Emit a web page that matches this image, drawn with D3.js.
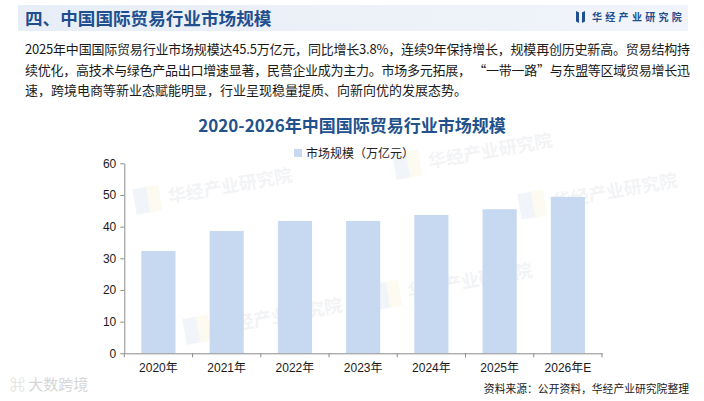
<!DOCTYPE html>
<html><head><meta charset="utf-8">
<script src="https://cdn.jsdelivr.net/npm/d3@7"></script>
<style>body{margin:0;background:#fff}svg{display:block}</style>
</head><body>
<svg id="c" width="704" height="401"></svg>
<script>
const categories = ["2020年","2021年","2022年","2023年","2024年","2025年","2026年E"];
const marketSize = [32.3, 38.6, 41.8, 41.8, 43.7, 45.5, 49.4];
const yTicks = [0, 10, 20, 30, 40, 50, 60];
const seriesName = "市场规模（万亿元）";
const chartTitle = "2020-2026年中国国际贸易行业市场规模";
const headerTitle = "四、中国国际贸易行业市场规模";
const brand = "华经产业研究院";
const bodyLines = [
  "2025年中国国际贸易行业市场规模达45.5万亿元，同比增长3.8%，连续9年保持增长，规模再创历史新高。贸易结构持",
  "续优化，高技术与绿色产品出口增速显著，民营企业成为主力。市场多元拓展， “一带一路”与东盟等区域贸易增长迅",
  "速，跨境电商等新业态赋能明显，行业呈现稳量提质、向新向优的发展态势。"
];
const sourceText = "资料来源：公开资料，华经产业研究院整理";
const watermarkText = "大数跨境";

const CJK = "'Noto Sans CJK SC','Noto Sans',sans-serif";
const NUM = "'Liberation Sans','Noto Sans CJK SC',sans-serif";
const svg = d3.select("#c");

// header band
const defs = svg.append("defs");
const g1 = defs.append("linearGradient").attr("id","hb");
g1.append("stop").attr("offset","0").attr("stop-color","#e8eef7");
g1.append("stop").attr("offset","1").attr("stop-color","#f1f4fa");
svg.append("rect").attr("x",18).attr("y",5).attr("width",670).attr("height",26).attr("fill","url(#hb)");
svg.append("text").attr("x",25).attr("y",24.5).text(headerTitle)
  .attr("font-family",CJK).attr("font-size",17.6).attr("font-weight","bold").attr("fill","#1f4f8f");

// brand logo
svg.append("path").attr("d","M576,11 L579,12.5 L579,23 L576,21.5 Z").attr("fill","#1f4f8f");
svg.append("path").attr("d","M582,12.5 L585,11 L585,21.5 L582,23 Z").attr("fill","#1f4f8f");
svg.append("text").attr("x",592).attr("y",21).text(brand)
  .attr("font-family",CJK).attr("font-size",10).attr("font-weight","bold")
  .attr("letter-spacing",3.3).attr("fill","#1f4f8f");

// watermarks (faint)
const wms = [[135,205],[395,170],[185,335],[375,300],[520,210]];
wms.forEach(([x,y])=>{
  const g = svg.append("g").attr("transform",`translate(${x},${y}) rotate(-10)`).attr("opacity",0.1);
  g.append("rect").attr("x",0).attr("y",-16).attr("width",14).attr("height",26).attr("fill","#7fa7d9");
  g.append("rect").attr("x",14).attr("y",-16).attr("width",12).attr("height",26).attr("fill","#f3d26b");
  g.append("text").attr("x",34).attr("y",4).text(brand).attr("font-family",CJK)
    .attr("font-size",18).attr("font-weight","bold").attr("fill","#8a96a8");
});
svg.append("text").attr("x",10).attr("y",390).text("⌘ "+watermarkText).attr("font-family",CJK)
  .attr("font-size",15).attr("fill","#d6d6d6");

// body text
bodyLines.forEach((t,i)=>{
  const tx = svg.append("text").attr("x",25).attr("y",54 + i*20.5).text(t)
    .attr("font-family",CJK).attr("font-size",13).attr("fill","#1a1a1a");
  if (i < 2) tx.attr("textLength",665).attr("lengthAdjust","spacing");
});

// chart title
svg.append("text").attr("x",352).attr("y",132).attr("text-anchor","middle").text(chartTitle)
  .attr("font-family",CJK).attr("font-size",17).attr("font-weight","bold").attr("fill","#22518c");

// legend
svg.append("rect").attr("x",294).attr("y",149).attr("width",8).attr("height",8).attr("fill","#c6d9f1");
svg.append("text").attr("x",306).attr("y",157.5).text(seriesName)
  .attr("font-family",CJK).attr("font-size",12).attr("fill","#222");

// scales
const x = d3.scaleBand().domain(categories).range([124.3, 602]).paddingInner(0.5).paddingOuter(0.25);
const y = d3.scaleLinear().domain([0, 60]).range([353.3, 163.3]);

// bars
svg.append("g").selectAll("rect").data(marketSize).join("rect")
  .attr("x",(d,i)=>x(categories[i])).attr("width",x.bandwidth())
  .attr("y",d=>y(d)).attr("height",d=>y(0)-y(d)).attr("fill","#c6d9f1");

// y axis
const ya = svg.append("g").attr("transform",`translate(${x.range()[0]},0)`)
  .call(d3.axisLeft(y).tickValues(yTicks).tickSize(4).tickPadding(4).tickSizeOuter(0));
ya.select(".domain").attr("stroke","#8c8c8c");
ya.selectAll(".tick line").attr("stroke","#8c8c8c");
ya.selectAll("text").attr("font-family",NUM).attr("font-size",12).attr("fill","#1a1a1a");

// x axis
const xa = svg.append("g").attr("transform",`translate(0,${y(0)})`)
  .call(d3.axisBottom(x).tickSize(0).tickPadding(10).tickSizeOuter(0));
xa.select(".domain").attr("stroke","#8c8c8c");
xa.selectAll("text").attr("font-family",NUM).attr("font-size",12).attr("fill","#1a1a1a");
const bounds = d3.range(categories.length + 1).map(i => x.range()[0] + i * x.step());
xa.selectAll(".bt").data(bounds).join("line").attr("class","bt")
  .attr("x1",d=>d).attr("x2",d=>d).attr("y1",0).attr("y2",4).attr("stroke","#8c8c8c");

// source
svg.append("text").attr("x",689).attr("y",393).attr("text-anchor","end").text(sourceText)
  .attr("font-family",CJK).attr("font-size",10.8).attr("fill","#222");
</script>
</body></html>
